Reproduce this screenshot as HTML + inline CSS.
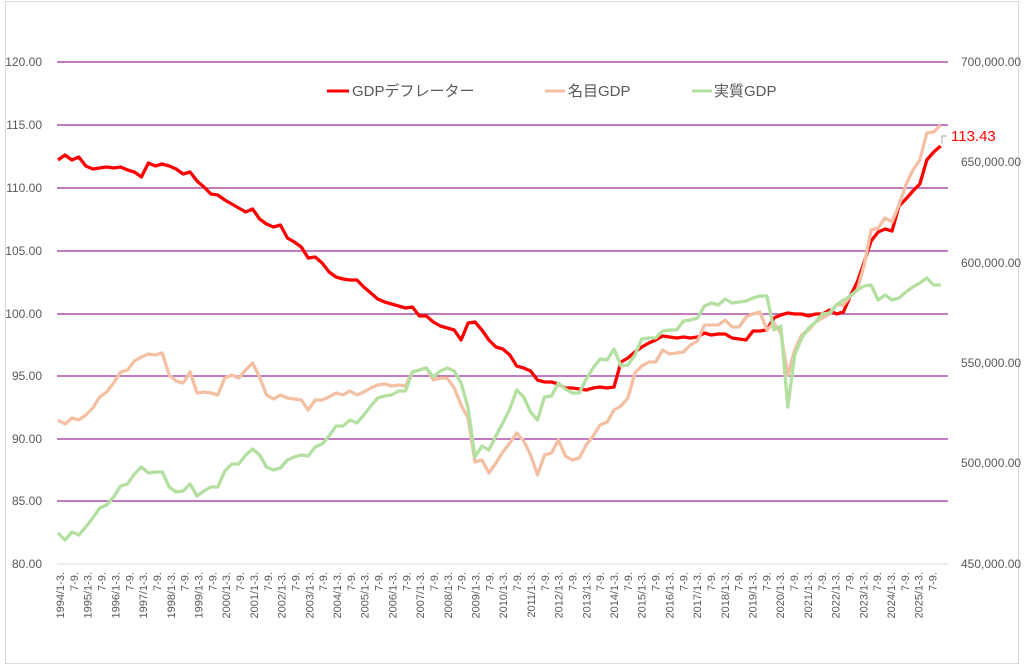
<!DOCTYPE html>
<html><head><meta charset="utf-8"><style>
html,body{margin:0;padding:0;background:#fff;}
svg{display:block;font-family:"Liberation Sans","Noto Sans CJK JP",sans-serif;}
</style></head><body>
<svg id="s" width="1024" height="668" viewBox="0 0 1024 668" xmlns="http://www.w3.org/2000/svg">
<rect x="5.5" y="1.5" width="1013" height="662" fill="#fff" stroke="#d9d9d9"/>
<g stroke="#9a2e9a" stroke-width="1.2">
<line x1="57" y1="62" x2="948" y2="62"/><line x1="57" y1="125" x2="948" y2="125"/>
<line x1="57" y1="188" x2="948" y2="188"/><line x1="57" y1="251" x2="948" y2="251"/>
<line x1="57" y1="314" x2="948" y2="314"/><line x1="57" y1="376" x2="948" y2="376"/>
<line x1="57" y1="439" x2="948" y2="439"/><line x1="57" y1="501" x2="948" y2="501"/>
</g>
<line x1="57" y1="564" x2="948" y2="564" stroke="#d9d9d9"/>
<g fill="#595959" font-size="12" text-anchor="end">
<text x="42" y="66">120.00</text><text x="42" y="129">115.00</text><text x="42" y="192">110.00</text>
<text x="42" y="255">105.00</text><text x="42" y="318">100.00</text><text x="42" y="380">95.00</text>
<text x="42" y="443">90.00</text><text x="42" y="505">85.00</text><text x="42" y="568">80.00</text>
</g>
<g fill="#595959" font-size="12">
<text x="961" y="66">700,000.00</text><text x="961" y="166">650,000.00</text><text x="961" y="267">600,000.00</text>
<text x="961" y="367">550,000.00</text><text x="961" y="467">500,000.00</text><text x="961" y="568">450,000.00</text>
</g>
<g id="xl" fill="#595959" font-size="11" text-anchor="end"></g>
<g id="lines" fill="none" stroke-width="3.3" stroke-linejoin="round"></g>
<line x1="327" y1="91" x2="349" y2="91" stroke="#ff0000" stroke-width="3"/>
<text x="352" y="96" font-size="15" fill="#595959">GDPデフレーター</text>
<line x1="545" y1="91" x2="565" y2="91" stroke="#f4c0a4" stroke-width="3"/>
<text x="568" y="96" font-size="15" fill="#595959">名目GDP</text>
<line x1="692" y1="91" x2="712" y2="91" stroke="#b3e0a0" stroke-width="3"/>
<text x="714" y="96" font-size="15" fill="#595959">実質GDP</text>
<polyline points="942,144 942,136 947,136" fill="none" stroke="#a6a6a6" stroke-width="1"/>
<text x="951" y="141" font-size="15" fill="#ff0000">113.43</text>
</svg>
<script>
var red=[160,155,160,157,166,169,168,167,168,167,170,172,177,163,166,164,166,169,174,172,181,187,194,195,200,204,208,212,209,219,224,227,225,238,242,247,258,257,263,272,277,279,280,280,287,293,299,302,304,306,308,307,316,316,322,326,328,330,340,323,322,330,340,347,349,355,366,368,371,380,382,382,384,388,388,389,390,388,387,388,387,362,358,352,347,343,340,336,337,338,337,338,337,333,335,334,334,338,339,340,331,331,330,318,315,313,314,314,316,314,314,310,314,312,296,282,262,241,232,229,231,206,199,191,184,160,152,146];
var nom=[420,424,418,420,415,408,397,392,383,372,370,361,357,354,355,353,375,381,383,372,393,392,393,395,378,375,378,370,363,377,395,399,395,398,399,400,410,400,400,397,393,395,391,395,392,388,385,384,386,385,386,372,370,368,380,378,378,388,405,418,462,460,473,463,452,443,433,441,455,475,455,453,440,456,460,458,445,436,425,422,410,406,398,373,366,362,362,350,354,353,352,345,341,325,325,325,320,327,327,317,314,312,330,323,333,375,350,335,330,322,318,314,305,305,296,290,265,230,228,218,222,205,185,170,160,133,132,125];
var real=[533,540,532,535,527,518,508,505,497,486,484,474,467,473,472,472,487,492,491,484,496,491,487,487,471,464,464,455,449,455,467,470,468,460,457,455,456,447,444,436,426,426,420,423,415,406,398,396,395,391,391,372,370,368,377,371,368,371,383,408,457,446,450,436,423,409,390,397,412,420,397,396,383,389,393,393,379,368,359,360,349,366,365,355,339,338,338,331,330,330,321,320,318,306,303,305,299,303,302,301,298,296,296,330,326,407,355,338,328,322,314,313,305,300,296,290,286,285,300,295,300,298,292,287,283,278,285,285];
var NS="http://www.w3.org/2000/svg";
function pl(a,c){var p=a.map(function(y,i){return (58+6.95*i).toFixed(1)+","+y}).join(" ");var e=document.createElementNS(NS,"polyline");e.setAttribute("points",p);e.setAttribute("stroke",c);document.getElementById("lines").appendChild(e);}
pl(red,"#ff0000");pl(nom,"#f4c0a4");pl(real,"#b3e0a0");
var g=document.getElementById("xl");
for(var k=0;k<64;k++){var x=60+13.85*k+4;var t=document.createElementNS(NS,"text");t.setAttribute("transform","translate("+x.toFixed(1)+",572) rotate(-90)");t.textContent=(k%2==0)?(1994+k/2)+"/1-3.":"7-9.";g.appendChild(t);}
</script>
</body></html>
